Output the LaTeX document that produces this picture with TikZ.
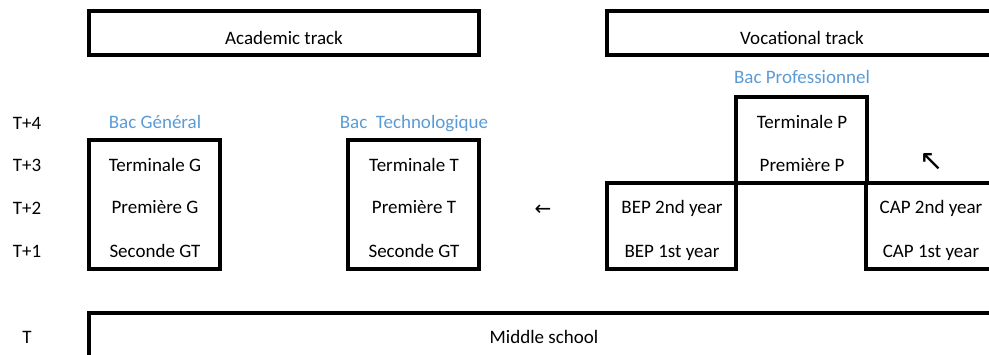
\documentclass[tikz,border=0pt]{standalone}
\usepackage{fontspec}
\setmainfont{Carlito}
\newfontfamily\symfont{DejaVu Sans}
\definecolor{bacblue}{HTML}{5B9BD5}
\begin{document}
\begin{tikzpicture}[x=1pt,y=-1pt,
  lbl/.style={anchor=base,inner sep=0pt,font=\fontsize{19}{23}\selectfont},
  bac/.style={lbl,text=bacblue},
  arr/.style={inner sep=0pt,font=\symfont\fontsize{20}{22}\selectfont},
  boxline/.style={line width=3.3pt,line cap=rect}]
\useasboundingbox (0,0) rectangle (989,354);
\clip (0,0) rectangle (989,354);
% boxes
\draw[boxline] (89,11) rectangle (479,55);
\draw[boxline] (607,11) rectangle (1005,55);
\draw[boxline] (89,140) rectangle (220,269);
\draw[boxline] (348,140) rectangle (479,269);
\draw[boxline] (736,183) -- (736,97) -- (867,97) -- (867,183);
\draw[boxline] (607,183) -- (1005,183);
\draw[boxline] (607,183) -- (607,269) -- (736,269) -- (736,183);
\draw[boxline] (866,183) -- (866,269) -- (1005,269);
\draw[boxline] (89,380) -- (89,313) -- (1005,313);
% headers
\node[lbl] (acad) at (284,44) {Academic track};
\node[lbl] (voc) at (802,44) {Vocational track};
% time labels
\node[lbl] (t4) at (27,129) {T+4};
\node[lbl] (t3) at (27,171) {T+3};
\node[lbl] (t2) at (27,214) {T+2};
\node[lbl] (t1) at (27,257) {T+1};
\node[lbl] (t0) at (27,343) {T};
% bac labels
\node[bac] (bg) at (155,128) {Bac Général};
\node[bac] (bt) at (414,128) {Bac\ \ Technologique};
\node[bac] (bp) at (802,83) {Bac Professionnel};
% academic general
\node[lbl] (tg) at (155,171) {Terminale G};
\node[lbl] (pg) at (155,213) {Première G};
\node[lbl] (sg) at (155,257) {Seconde GT};
% academic techno
\node[lbl] (tt) at (414,171) {Terminale T};
\node[lbl] (pt) at (414,213) {Première T};
\node[lbl] (st) at (414,257) {Seconde GT};
% vocational
\node[lbl] (tp) at (802,128) {Terminale P};
\node[lbl] (pp) at (802,171) {Première P};
\node[lbl] (b2) at (672,213) {BEP 2nd year};
\node[lbl] (b1) at (672,257) {BEP 1st year};
\node[lbl] (c2) at (931,213) {CAP 2nd year};
\node[lbl] (c1) at (931,257) {CAP 1st year};
% arrows
\node[arr] (la) at (543,210) {←};
\node[arr,font=\symfont\fontsize{29}{31}\selectfont] (ua) at (932,162) {↖};
% middle school
\node[lbl] (ms) at (544,343) {Middle school};
\end{tikzpicture}
\end{document}
